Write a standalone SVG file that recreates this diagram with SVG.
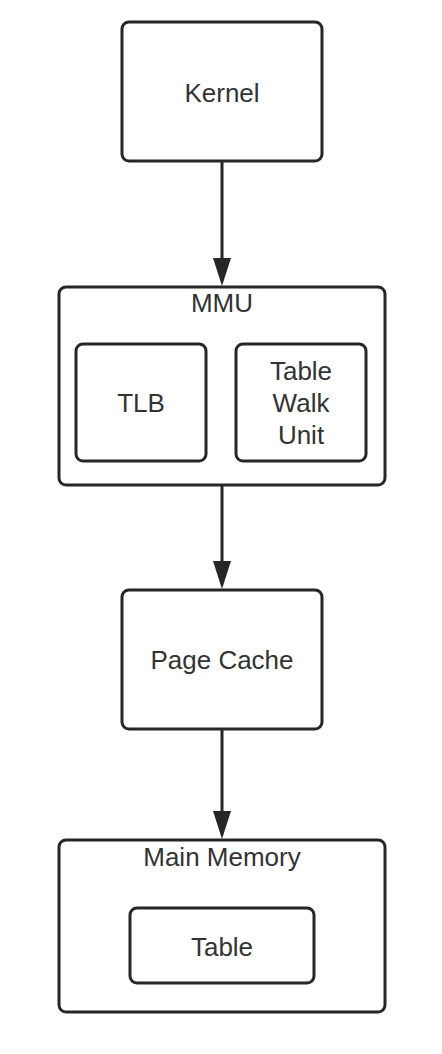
<svg xmlns="http://www.w3.org/2000/svg" width="442" height="1054" viewBox="0 0 442 1054">
<defs>
<style>
.box{fill:#fff;stroke:#262626;stroke-width:3}
.lbl{font-family:"Liberation Sans",Arial,sans-serif;font-size:26px;fill:#333;text-anchor:middle}
.edge{stroke:#262626;stroke-width:3;fill:none}
</style>
<marker id="ah" markerUnits="userSpaceOnUse" viewBox="0 0 28 18" markerWidth="28" markerHeight="18" refX="0" refY="9" orient="auto">
<path d="M0,0 L28,9 L0,18 z" fill="#262626"/>
</marker>
</defs>
<rect width="442" height="1054" fill="#fff"/>
<g id="connectors">
<line class="edge" x1="222" y1="161" x2="222" y2="258" marker-end="url(#ah)"/>
<line class="edge" x1="222" y1="486" x2="222" y2="561" marker-end="url(#ah)"/>
<line class="edge" x1="222" y1="730" x2="222" y2="811" marker-end="url(#ah)"/>
</g>
<g id="kernel">
<rect class="box" x="122" y="22" width="200" height="139" rx="7"/>
<text class="lbl" x="222" y="102">Kernel</text>
</g>
<g id="mmu">
<rect class="box" x="59" y="287" width="326" height="198" rx="7"/>
<text class="lbl" x="222" y="312">MMU</text>
</g>
<g id="tlb">
<rect class="box" x="76" y="344" width="130" height="117" rx="7"/>
<text class="lbl" x="141" y="412">TLB</text>
</g>
<g id="table-walk-unit">
<rect class="box" x="236" y="344" width="130" height="117" rx="7"/>
<text class="lbl" x="301" y="380">Table</text>
<text class="lbl" x="301" y="412">Walk</text>
<text class="lbl" x="301" y="444">Unit</text>
</g>
<g id="page-cache">
<rect class="box" x="122" y="590" width="200" height="139" rx="7"/>
<text class="lbl" x="222" y="669">Page Cache</text>
</g>
<g id="main-memory">
<rect class="box" x="59" y="840" width="326" height="172" rx="7"/>
<text class="lbl" x="222" y="866">Main Memory</text>
</g>
<g id="table">
<rect class="box" x="130" y="908" width="184" height="75" rx="7"/>
<text class="lbl" x="222" y="956">Table</text>
</g>
</svg>
